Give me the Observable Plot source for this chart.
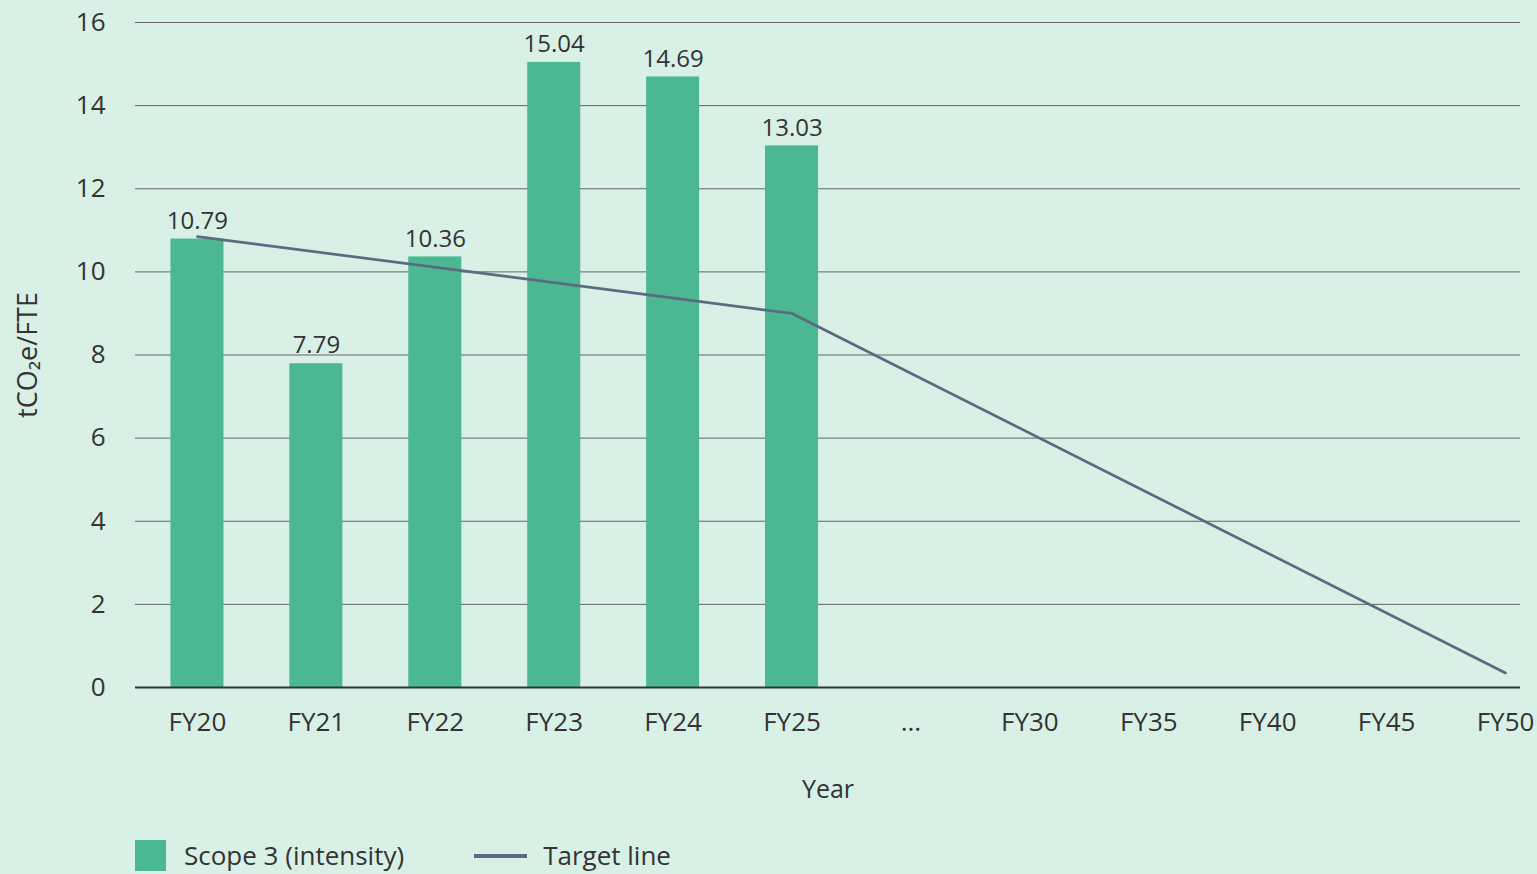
<!DOCTYPE html>
<html>
<head>
<meta charset="utf-8">
<script src="https://cdn.jsdelivr.net/npm/d3@7"></script>
<script src="https://cdn.jsdelivr.net/npm/@observablehq/plot@0.6"></script>
<style>
  html, body { margin: 0; padding: 0; background: #d9f0e7; }
  body { width: 1537px; height: 874px; overflow: hidden; font-family: "Open Sans", sans-serif; color: #333; }
  #legend { position: absolute; left: 135px; top: 840px; display: flex; align-items: center; font-size: 26px; line-height: 31px; }
  .sw-box { width: 31px; height: 31px; background: #4cb893; margin-right: 18px; }
  .sw-line { width: 53px; height: 4px; background: #5a6b80; margin-left: 70px; margin-right: 16px; }
</style>
</head>
<body>
<div id="chart"></div>
<div id="legend">
  <div class="sw-box"></div><span>Scope 3 (intensity)</span>
  <div class="sw-line"></div><span>Target line</span>
</div>
<script>
const categories = ["FY20", "FY21", "FY22", "FY23", "FY24", "FY25", "...", "FY30", "FY35", "FY40", "FY45", "FY50"];
const barYears = ["FY20", "FY21", "FY22", "FY23", "FY24", "FY25"];
const barValues = [10.79, 7.79, 10.36, 15.04, 14.69, 13.03];
const targetYears = ["FY20", "FY25", "FY50"];
const targetValues = [10.85, 9.0, 0.35];
const yTicks = [0, 2, 4, 6, 8, 10, 12, 14, 16];

const bars = barYears.map((year, i) => ({year, value: barValues[i]}));
const target = targetYears.map((year, i) => ({year, value: targetValues[i]}));

const chart = Plot.plot({
  width: 1537,
  height: 825,
  marginLeft: 135,
  marginRight: 17,
  marginTop: 22,
  marginBottom: 138,
  style: {background: "transparent", fontFamily: "Open Sans, sans-serif", fontSize: "24px", color: "#333"},
  x: {domain: categories, range: [137.5, 1564.5], paddingInner: 0.554, paddingOuter: 0.277, round: false},
  y: {domain: [0, 16]},
  marks: [
    Plot.gridY(yTicks, {stroke: "#555", strokeOpacity: 0.9, strokeWidth: 1}),
    Plot.barY(bars, {x: "year", y: "value", fill: "#4cb893"}),
    Plot.ruleY([0], {stroke: "#333", strokeWidth: 2}),
    Plot.lineY(target, {x: "year", y: "value", stroke: "#5a6b80", strokeWidth: 2.7}),
    Plot.text(bars, {x: "year", y: "value", text: d => d.value.toFixed(2), dy: -18, fontSize: 24, fill: "#333"}),
    Plot.axisX({tickSize: 0, tickPadding: 25, fontSize: 26, label: "Year", labelAnchor: "center", labelOffset: 110, labelArrow: "none"}),
    Plot.axisY(yTicks, {tickSize: 0, tickPadding: 30, fontSize: 26, label: "tCO₂e/FTE", labelAnchor: "center", labelOffset: 118, labelArrow: "none"})
  ]
});
document.getElementById("chart").appendChild(chart);
// axis title sizes
chart.querySelectorAll("[aria-label='x-axis label'] text").forEach(t => t.setAttribute("font-size", 25));
chart.querySelectorAll("[aria-label='y-axis label'] text").forEach(t => t.setAttribute("font-size", 27));
</script>
</body>
</html>
